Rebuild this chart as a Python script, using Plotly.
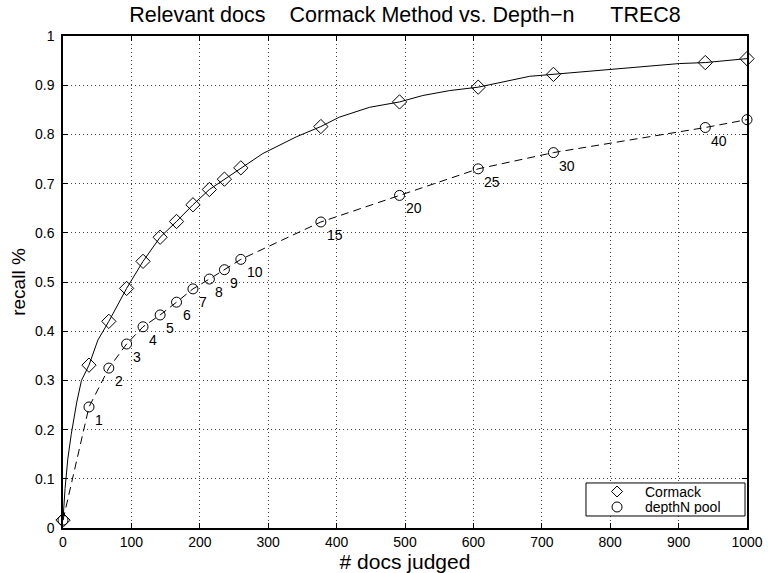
import plotly.graph_objects as go

# Pool sizes (# docs judged) at which each method was sampled
docs_judged = [0, 38, 67, 93, 117, 142, 166, 190, 214, 236, 260,
               377, 492, 607, 717, 939, 1000]

# Recall at those pool sizes
cormack_recall = [0.016, 0.331, 0.420, 0.487, 0.542, 0.591, 0.623, 0.657,
                  0.688, 0.709, 0.732, 0.816, 0.866, 0.896, 0.922, 0.946, 0.954]
depthn_recall = [0.016, 0.246, 0.325, 0.374, 0.409, 0.433, 0.459, 0.486,
                 0.506, 0.525, 0.546, 0.622, 0.676, 0.730, 0.763, 0.814, 0.830]

# Pool depth n printed next to each depth-n point
depth_labels = ["", "1", "2", "3", "4", "5", "6", "7", "8", "9", "10",
                "15", "20", "25", "30", "40", ""]

# Full Cormack recall curve (finer sampling than the marked points)
cormack_curve_x = [0, 3, 7, 12, 20, 27, 38, 51, 67, 93, 117, 142, 166, 190,
                   214, 236, 260, 273, 292, 341, 377, 404, 448, 492, 526, 565,
                   607, 682, 717, 901, 939, 1000]
cormack_curve_y = [0.016, 0.080, 0.140, 0.190, 0.255, 0.300, 0.331, 0.382,
                   0.420, 0.487, 0.542, 0.591, 0.623, 0.657, 0.688, 0.709,
                   0.732, 0.744, 0.761, 0.795, 0.816, 0.835, 0.855, 0.866,
                   0.879, 0.889, 0.896, 0.918, 0.922, 0.944, 0.946, 0.954]

legend_names = ["Cormack", "depthN pool"]

FONT = "Liberation Sans, Arial, Helvetica, sans-serif"

fig = go.Figure()

fig.add_trace(go.Scatter(
    x=cormack_curve_x, y=cormack_curve_y, mode="lines",
    line=dict(color="black", width=1), showlegend=False,
    hoverinfo="skip", cliponaxis=False))
fig.add_trace(go.Scatter(
    x=docs_judged, y=depthn_recall, mode="lines",
    line=dict(color="black", width=1, dash="8px,5px"), showlegend=False,
    hoverinfo="skip", cliponaxis=False))

fig.add_trace(go.Scatter(
    x=docs_judged, y=cormack_recall, mode="markers", name=legend_names[0],
    marker=dict(symbol="diamond-open", size=11, color="black",
                line=dict(width=1, color="black")),
    showlegend=False, cliponaxis=False))
fig.add_trace(go.Scatter(
    x=docs_judged, y=depthn_recall, mode="markers", name=legend_names[1],
    marker=dict(symbol="circle-open", size=10, color="black",
                line=dict(width=1, color="black")),
    showlegend=False, cliponaxis=False))

for xv, yv, lab in zip(docs_judged, depthn_recall, depth_labels):
    if lab:
        fig.add_annotation(x=xv, y=yv, text=lab, showarrow=False,
                           xanchor="left", yanchor="middle",
                           xshift=4, yshift=-13,
                           font=dict(family=FONT, size=14, color="black"))

# Boxed key in the lower-right corner (paper coordinates of the plot area)
box_x0, box_x1, box_y0, box_y1 = 0.7646, 0.9971, 0.0244, 0.0915
row_y = [0.0742, 0.0427]
key_x, text_x = 0.810, 0.848
fig.add_shape(type="rect", xref="paper", yref="paper",
              x0=box_x0, x1=box_x1, y0=box_y0, y1=box_y1,
              line=dict(color="black", width=1), fillcolor="white", layer="above")
# diamond key
fig.add_shape(type="path", xref="paper", yref="paper",
              xsizemode="pixel", ysizemode="pixel",
              xanchor=key_x, yanchor=row_y[0],
              path="M 0 5.5 L 5.5 0 L 0 -5.5 L -5.5 0 Z",
              line=dict(color="black", width=1), layer="above")
# circle key
fig.add_shape(type="circle", xref="paper", yref="paper",
              xsizemode="pixel", ysizemode="pixel",
              xanchor=key_x, yanchor=row_y[1],
              x0=-5, x1=5, y0=-5, y1=5,
              line=dict(color="black", width=1), layer="above")
for name, yv in zip(legend_names, row_y):
    fig.add_annotation(xref="paper", yref="paper", x=text_x, y=yv, text=name,
                       showarrow=False, xanchor="left", yanchor="middle",
                       height=15, valign="middle",
                       font=dict(family=FONT, size=14, color="black"))

axis_common = dict(
    ticks="inside", ticklen=5, tickcolor="black", tickwidth=1,
    showline=True, linecolor="black", linewidth=1.5, mirror="ticks",
    showgrid=True, gridcolor="#444444", gridwidth=1, griddash="1px,3px",
    zeroline=False, automargin=False,
    tickfont=dict(family=FONT, size=14, color="black"),
)

fig.update_xaxes(range=[0, 1000], tick0=0, dtick=100,
                 title=dict(text="# docs judged",
                            font=dict(family=FONT, size=21, color="black"),
                            standoff=4),
                 **axis_common)
fig.update_yaxes(range=[0, 1], tick0=0, dtick=0.1,
                 ticklabelstandoff=4,
                 title=dict(text="recall %",
                            font=dict(family=FONT, size=19, color="black"),
                            standoff=4),
                 **axis_common)

sp = "\u00a0"
fig.update_layout(
    width=768, height=573,
    margin=dict(l=63, r=21, t=36, b=45, autoexpand=False),
    plot_bgcolor="white", paper_bgcolor="white",
    font=dict(family=FONT, size=14, color="black"),
    title=dict(text=f"Relevant docs{sp*4}Cormack Method vs. Depth\u2212n{sp*6}TREC8",
               x=0.5, xref="paper", xanchor="center",
               y=1 - 14 / 573, yref="container", yanchor="middle",
               font=dict(family=FONT, size=21.5, color="black")),
    showlegend=False,
)

fig.write_html("out.html")
